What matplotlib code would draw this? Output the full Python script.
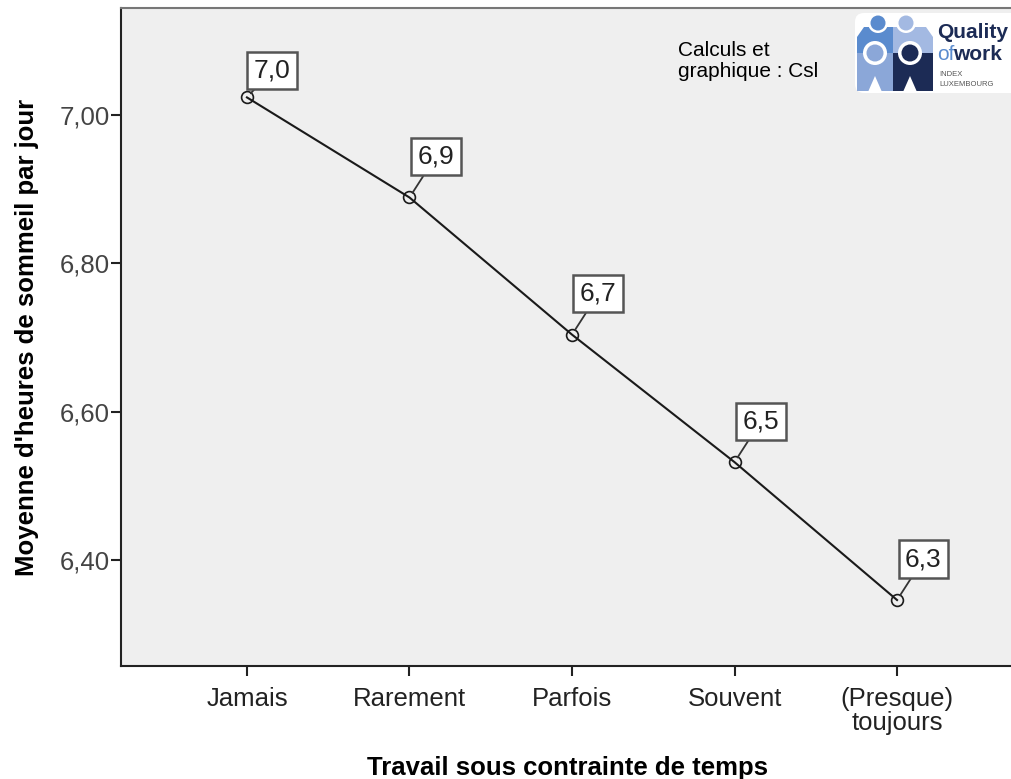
import matplotlib.pyplot as plt
from matplotlib.patches import FancyBboxPatch, Circle, Rectangle, Polygon
import numpy as np

plt.rcParams['font.family'] = ['Liberation Sans', 'DejaVu Sans']

categories = ["Jamais", "Rarement", "Parfois", "Souvent", "(Presque)\ntoujours"]
moyennes = [7.024, 6.889, 6.704, 6.532, 6.346]
etiquettes = ["7,0", "6,9", "6,7", "6,5", "6,3"]
yticks = [6.40, 6.60, 6.80, 7.00]

fig = plt.figure(figsize=(10.12, 7.79), dpi=100)
ax = fig.add_axes([121/1012, 1-666/779, (1023-121)/1012, (666-8)/779])
ax.set_facecolor('#efefef')

x = np.arange(len(categories))
ax.plot(x, moyennes, color='#1a1a1a', linewidth=1.5, marker='o', markersize=8.5,
        markerfacecolor='none', markeredgecolor='#1a1a1a', markeredgewidth=1.2, zorder=3)

# étiquettes de valeur (décalage du centre de la boîte, en points)
offsets = [(18, 19.5), (19, 29.5), (19, 29.5), (19, 29.5), (19, 29.5)]
for i in range(len(x)):
    ax.annotate(etiquettes[i], xy=(x[i], moyennes[i]), xytext=offsets[i],
                textcoords='offset points', ha='center', va='center', fontsize=19,
                color='#222222', zorder=4,
                bbox=dict(boxstyle='square,pad=0.25', facecolor='white', edgecolor='#555555', linewidth=1.8),
                arrowprops=dict(arrowstyle='-', color='#333333', linewidth=1.3, shrinkA=0, shrinkB=4))

ax.set_xlim(-0.775, 4.775)
ax.set_ylim(6.257, 7.1446)
ax.set_xticks(x)
ax.set_xticklabels(categories, fontsize=18.5, color='#222222', linespacing=1.0)
ax.set_yticks(yticks)
ax.yaxis.set_major_formatter(plt.FuncFormatter(lambda v, p: ("%.2f" % v).replace('.', ',')))
ax.tick_params(axis='y', labelsize=18.5, labelcolor='#444444')
ax.tick_params(axis='both', direction='out', length=7, width=1.5, color='#222222', pad=1)
ax.tick_params(axis='x', pad=8)

for s in ['left', 'bottom']:
    ax.spines[s].set_linewidth(1.5)
    ax.spines[s].set_color('#222222')
ax.spines['top'].set_color('#777777')
ax.spines['top'].set_linewidth(1.5)
ax.spines['right'].set_visible(False)

ax.set_ylabel("Moyenne d'heures de sommeil par jour", fontsize=18.5, fontweight='bold', labelpad=15)
fig.text(568/1012, 1-768/779, "Travail sous contrainte de temps", fontsize=18.5,
         fontweight='bold', ha='center', va='center')

fig.text(678/1012, 1-61/779, "Calculs et\ngraphique : Csl", fontsize=15,
         ha='left', va='center', linespacing=1.15)

# logo approximatif
logo = fig.add_axes([855/1012, 1-93/779, 157/1012, 80/779])
logo.set_xlim(0, 157)
logo.set_ylim(80, 0)
logo.axis('off')
logo.add_patch(FancyBboxPatch((0, 0), 170, 80, boxstyle='round,pad=0,rounding_size=9',
                              facecolor='white', edgecolor='none'))
bleu, clair, moyen, marine = '#5a8bce', '#a3b9e2', '#8ba7d8', '#1c2b55'
logo.add_patch(Rectangle((2, 14), 36, 26, facecolor=bleu, edgecolor='none'))
logo.add_patch(Rectangle((38, 14), 40, 26, facecolor=clair, edgecolor='none'))
logo.add_patch(Rectangle((2, 40), 36, 38, facecolor=moyen, edgecolor='none'))
logo.add_patch(Rectangle((38, 40), 40, 38, facecolor=marine, edgecolor='none'))
for cx, c in [(23, bleu), (51, clair)]:
    logo.add_patch(Circle((cx, 10), 10, facecolor='white', edgecolor='none'))
    logo.add_patch(Circle((cx, 10), 7.5, facecolor=c, edgecolor='none'))
for cx, c in [(20, moyen), (55, marine)]:
    logo.add_patch(Circle((cx, 40), 12, facecolor='white', edgecolor='none'))
    logo.add_patch(Circle((cx, 40), 8.5, facecolor=c, edgecolor='none'))
    logo.add_patch(Polygon([(cx-7, 79), (cx, 63), (cx+7, 79)], facecolor='white', edgecolor='none'))
logo.add_patch(Polygon([(2, 14), (9, 14), (2, 24)], facecolor='white', edgecolor='none'))
logo.add_patch(Polygon([(78, 14), (71, 14), (78, 24)], facecolor='white', edgecolor='none'))
logo.text(82, 25, "Quality", fontsize=15, fontweight='bold', color=marine, va='baseline')
logo.text(82, 47, "of", fontsize=15, color=bleu, va='baseline')
logo.text(98, 47, "work", fontsize=15, fontweight='bold', color=marine, va='baseline')
logo.text(84, 66, "INDEX\nLUXEMBOURG", fontsize=5.5, color='#555555', va='center', linespacing=1.6)

fig.savefig('out.png', dpi=100)
